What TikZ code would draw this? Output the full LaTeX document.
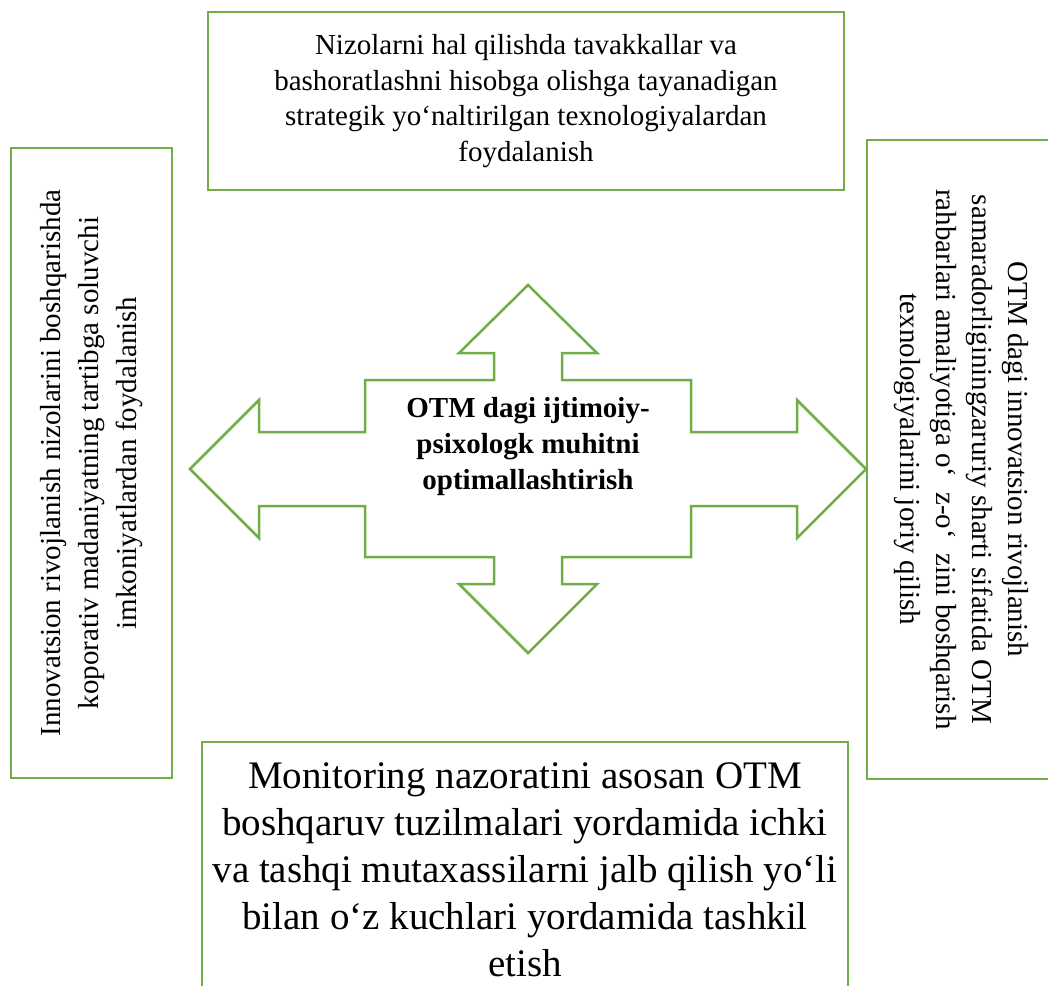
\documentclass[tikz,border=0pt]{standalone}
\usepackage{fontspec}
\setmainfont{Liberation Serif}
\usepackage{tikz}
\usetikzlibrary{positioning}
\definecolor{boxgreen}{RGB}{112,173,71}
\tikzstyle{box} = [draw=boxgreen, line width=2.5pt, align=center, inner sep=0pt]
\tikzstyle{crossline} = [draw=boxgreen, line width=2.5pt, line join=miter]

\begin{document}
\begin{tikzpicture}[x=1pt, y=-1pt]
		\useasboundingbox (0,0) rectangle (1048,985);
		\clip (0,0) rectangle (1048,985);
		
		% four-way arrow in the middle
		\draw[crossline] (528,285) -- (597,353) -- (562,353) -- (562,380) -- (691,380)
			-- (691,432) -- (797,432) -- (797,400) -- (866,469) -- (797,538) -- (797,506)
			-- (691,506) -- (691,557) -- (562,557) -- (562,584) -- (597,584) -- (528,653)
			-- (459,584) -- (494,584) -- (494,557) -- (365,557) -- (365,506) -- (259,506)
			-- (259,538) -- (190,469) -- (259,400) -- (259,432) -- (365,432) -- (365,380)
			-- (494,380) -- (494,353) -- (459,353) -- cycle;
		\node[align=center, font=\fontsize{29}{36}\selectfont\bfseries] (middle) at (528,447)
			{OTM dagi ijtimoiy-\\psixologk muhitni\\optimallashtirish};
		
		\node[box, minimum width=636pt, minimum height=178pt, font=\fontsize{29}{35.5}\selectfont] (top) at (526,101)
			{Nizolarni hal qilishda tavakkallar va\\bashoratlashni hisobga olishga tayanadigan\\strategik yo‘naltirilgan texnologiyalardan\\foydalanish};
		\node[box, rotate=90, minimum width=630pt, minimum height=161pt, font=\fontsize{29}{38}\selectfont] (left) at (91.5,463)
			{Innovatsion rivojlanish nizolarini boshqarishda\\koporativ madaniyatning tartibga soluvchi\\imkoniyatlardan foydalanish};
		\node[box, rotate=-90, minimum width=639pt, minimum height=188pt, font=\fontsize{29}{36}\selectfont] (right) at (961,459.5)
			{OTM dagi innovatsion rivojlanish\\samaradorliginingzaruriy sharti sifatida OTM\\rahbarlari amaliyotiga o‘~ z-o‘~ zini boshqarish\\texnologiyalarini joriy qilish};
		\node[box, minimum width=646pt, minimum height=256pt, font=\fontsize{39}{47}\selectfont] (bottom) at (525,870)
			{Monitoring nazoratini asosan OTM\\boshqaruv tuzilmalari yordamida ichki\\va tashqi mutaxassilarni jalb qilish yo‘li\\bilan o‘z kuchlari yordamida tashkil\\etish};
	\end{tikzpicture}
\end{document}
